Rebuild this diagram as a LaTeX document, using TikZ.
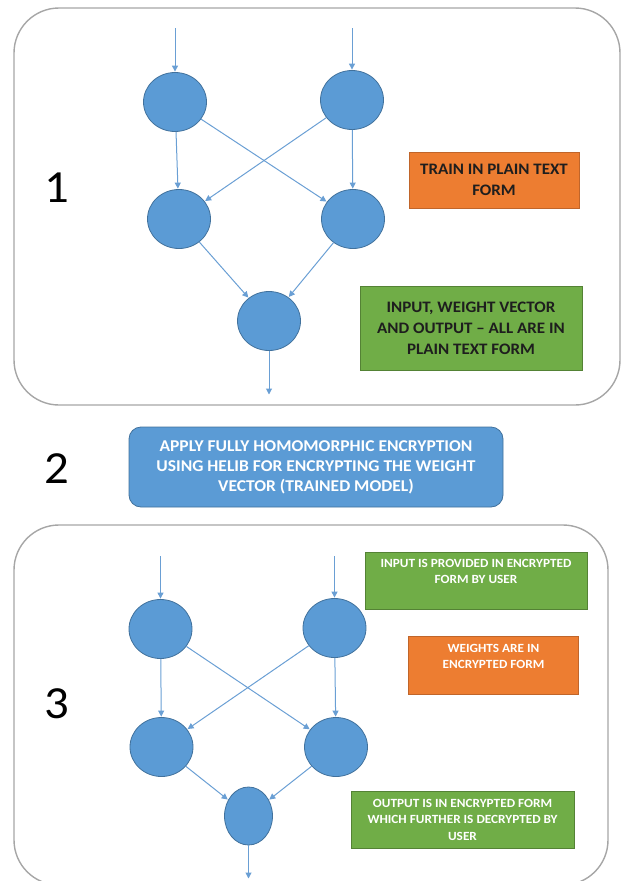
\documentclass[tikz,border=0pt]{standalone}
\usepackage{fontspec}
\setmainfont{Carlito}[FakeStretch=1.06]
\usetikzlibrary{shapes.geometric,arrows.meta}
\definecolor{nblue}{HTML}{5B9BD5}
\definecolor{nblueD}{HTML}{41719C}
\definecolor{aline}{HTML}{6A9FD4}
\definecolor{oran}{HTML}{ED7D31}
\definecolor{oranD}{HTML}{C0652A}
\definecolor{gren}{HTML}{70AD47}
\definecolor{grenD}{HTML}{548235}
\definecolor{frameC}{HTML}{A6A6A6}
\definecolor{txtD}{HTML}{1E1E1E}
\begin{document}
\begin{tikzpicture}[x=1pt,y=-1pt,
  neuron/.style={ellipse, fill=nblue, draw=nblueD, line width=0.8pt,
    minimum width=63pt, minimum height=59pt, inner sep=0pt},
  conn/.style={draw=aline, line width=1pt,
    -{Triangle[length=6pt,width=6pt]}, shorten >=0.5pt},
  stageframe/.style={draw=frameC, line width=1.4pt, rounded corners=45pt},
  numlabel/.style={font=\fontsize{46}{50}\selectfont, text=black, inner sep=0pt},
  obox/.style={fill=oran, draw=oranD, line width=0.8pt, inner sep=0pt},
  gbox/.style={fill=gren, draw=grenD, line width=0.8pt, inner sep=0pt},
  bbox/.style={fill=nblue, draw=nblueD, line width=0.8pt, inner sep=0pt, rounded corners=12pt},
  bigtxt/.style={font=\fontsize{16}{21}\selectfont\bfseries, align=center},
  midtxt/.style={font=\fontsize{16.5}{20}\selectfont\bfseries, align=center, text=white},
  smalltxt/.style={font=\fontsize{12.5}{16.5}\selectfont\bfseries, text=white}
]
\useasboundingbox (0,0) rectangle (622,881);

% ---------- stage 1 ----------
\draw[stageframe] (14,8) rectangle (620,405);
\node[numlabel] (n1) at (57,188) {1};

\node[neuron] (c11) at (175,102) {};
\node[neuron] (c12) at (352,100) {};
\node[neuron] (c21) at (179,219) {};
\node[neuron] (c22) at (353,219) {};
\node[neuron] (o1) at (269,321) {};
\coordinate (i11) at (175,28);
\coordinate (i12) at (352,28);
\coordinate (e1) at (269,395);

\draw[conn] (i11) -- (c11);
\draw[conn] (i12) -- (c12);
\draw[conn] (c11) -- (c21);
\draw[conn] (c11) -- (c22);
\draw[conn] (c12) -- (c21);
\draw[conn] (c12) -- (c22);
\draw[conn] (c21) -- (o1);
\draw[conn] (c22) -- (o1);
\draw[conn] (o1) -- (e1);

\node[obox, minimum width=170pt, minimum height=56pt, bigtxt, text=txtD] (t1) at (494,180)
  {TRAIN IN PLAIN TEXT\\FORM};
\node[gbox, minimum width=222pt, minimum height=84pt, bigtxt, text=txtD] (t2) at (471,328)
  {INPUT, WEIGHT VECTOR\\AND OUTPUT -- ALL ARE IN\\PLAIN TEXT FORM};

% ---------- stage 2 ----------
\node[numlabel] (n2) at (57,469) {2};
\node[bbox, minimum width=374pt, minimum height=80pt, midtxt] (he) at (316,467)
  {APPLY FULLY HOMOMORPHIC ENCRYPTION\\USING HELIB FOR ENCRYPTING THE WEIGHT\\VECTOR (TRAINED MODEL)};

% ---------- stage 3 ----------
\draw[stageframe] (14,525) rectangle (608,885);
\node[numlabel] (n3) at (57,704) {3};

\node[neuron] (c31) at (160.5,629) {};
\node[neuron] (c32) at (334.5,628) {};
\node[neuron] (c41) at (161.5,747) {};
\node[neuron] (c42) at (336,747) {};
\node[neuron, minimum width=48pt, minimum height=58pt] (o3) at (248.5,816) {};
\coordinate (i31) at (160.5,556);
\coordinate (i32) at (334.5,556);
\coordinate (e3) at (248.5,879);

\draw[conn] (i31) -- (c31);
\draw[conn] (i32) -- (c32);
\draw[conn] (c31) -- (c41);
\draw[conn] (c31) -- (c42);
\draw[conn] (c32) -- (c41);
\draw[conn] (c32) -- (c42);
\draw[conn] (c41) -- (o3);
\draw[conn] (c42) -- (o3);
\draw[conn] (o3) -- (e3);

\node[gbox, smalltxt] (u1) at (476,580.5)
  {\parbox[c][57pt][t]{222pt}{\centering\vspace*{7pt}INPUT IS PROVIDED IN ENCRYPTED\\FORM BY USER}};
\node[obox, smalltxt] (u2) at (493.5,665)
  {\parbox[c][58pt][t]{170pt}{\centering\vspace*{8pt}WEIGHTS ARE IN\\ENCRYPTED FORM}};
\node[gbox, minimum width=223pt, minimum height=57pt, smalltxt, align=center] (u3) at (462.5,819.5)
  {OUTPUT IS IN ENCRYPTED FORM\\WHICH FURTHER IS DECRYPTED BY\\USER};
\end{tikzpicture}
\end{document}
